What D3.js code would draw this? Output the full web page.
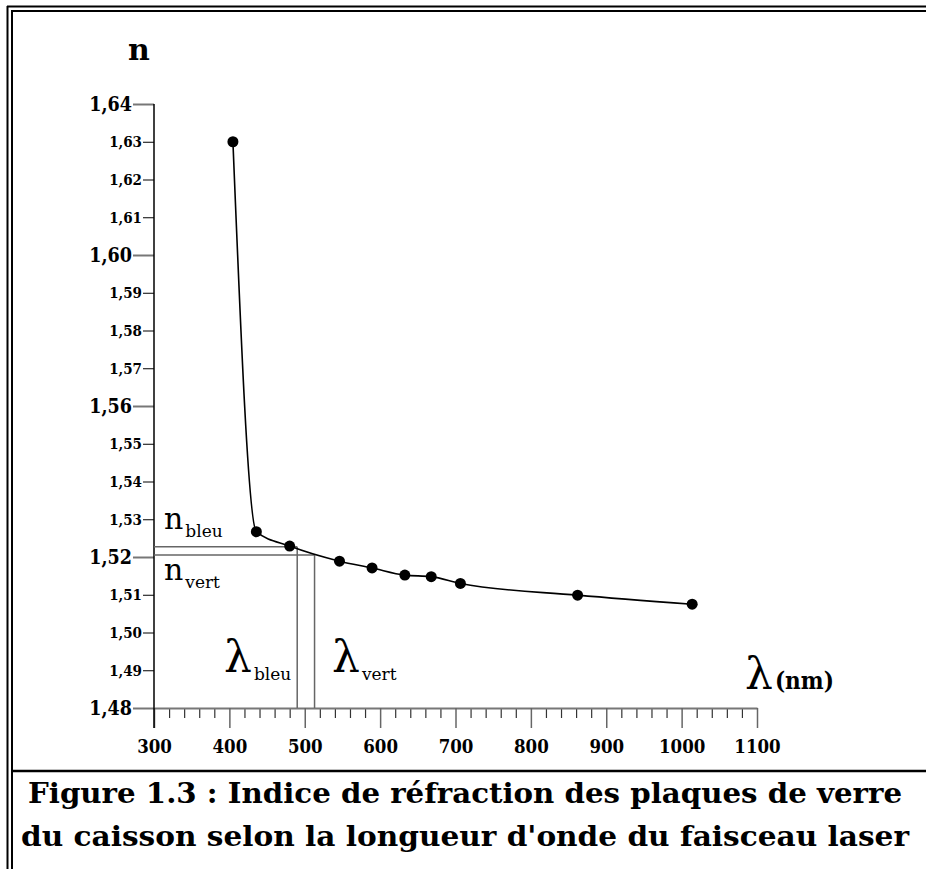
<!DOCTYPE html>
<html>
<head>
<meta charset="utf-8">
<script src="https://cdn.jsdelivr.net/npm/d3@7/dist/d3.min.js"></script>
<style>
  html, body { margin: 0; padding: 0; background: #fff; overflow: hidden; }
  svg { display: block; }
  .num { font-family: "DejaVu Serif Condensed", "DejaVu Serif", serif; font-weight: bold; font-stretch: condensed; }
  .ser { font-family: "DejaVu Serif", serif; }
</style>
</head>
<body>
<svg id="chart" width="926" height="869"></svg>
<script>
// Refractive index of the glass plates vs. wavelength
const wavelengths = [404.7, 435.8, 480.0, 546.1, 589.3, 632.8, 667.8, 706.5, 862.0, 1014.0];
const indices     = [1.6300, 1.5267, 1.5229, 1.5189, 1.5171, 1.5152, 1.5148, 1.5130, 1.5099, 1.5075];

// Laser lines read on the curve
const lambdaBleu = 490;
const lambdaVert = 513;
const nBleu = 1.5227;
const nVert = 1.5205;

// Axis ticks
const yMajorTicks = [1.48, 1.52, 1.56, 1.60, 1.64];
const yMinorTicks = [1.49, 1.50, 1.51, 1.53, 1.54, 1.55, 1.57, 1.58, 1.59, 1.61, 1.62, 1.63];
const xMajorTicks = [300, 400, 500, 600, 700, 800, 900, 1000, 1100];
const xMinorTicks = d3.range(320, 1100, 20).filter(v => v % 100 !== 0);

const captionLines = [
  "Figure 1.3 : Indice de réfraction des plaques de verre",
  "du caisson selon la longueur d'onde du faisceau laser"
];
const captionWidths = [874, 888];

const svg = d3.select("#chart");
const W = 926, H = 869;

const x = d3.scaleLinear().domain([300, 1100]).range([154, 757]);
const y = d3.scaleLinear().domain([1.48, 1.64]).range([708, 104]);

const fr = d3.formatLocale({ decimal: ",", thousands: " ", grouping: [3], currency: ["", "€"] });
const fmt = fr.format(".2f");

// Frame: double rule on top and left, caption separator
const frame = svg.append("g").attr("stroke", "#000").attr("stroke-width", 2);
frame.append("line").attr("x1", 7).attr("x2", W).attr("y1", 6.5).attr("y2", 6.5);
frame.append("line").attr("x1", 11).attr("x2", W).attr("y1", 11).attr("y2", 11);
frame.append("line").attr("x1", 7.5).attr("x2", 7.5).attr("y1", 6).attr("y2", H);
frame.append("line").attr("x1", 12).attr("x2", 12).attr("y1", 11).attr("y2", H);
frame.append("line").attr("x1", 12).attr("x2", W).attr("y1", 771).attr("y2", 771).attr("stroke-width", 2.5);

// Y axis — minor ticks
const yMinor = svg.append("g").attr("transform", `translate(${x(300)},0)`)
  .call(d3.axisLeft(y).tickValues(yMinorTicks).tickSize(11).tickPadding(1).tickFormat(fmt));
yMinor.select(".domain").remove();
yMinor.selectAll(".tick line").attr("stroke", "#000").attr("stroke-width", 1);
yMinor.selectAll(".tick text").attr("class", "num").attr("font-size", 15).attr("fill", "#000");

// Y axis — major ticks
const yMajor = svg.append("g").attr("transform", `translate(${x(300)},0)`)
  .call(d3.axisLeft(y).tickValues(yMajorTicks).tickSize(21).tickPadding(1).tickFormat(fmt));
yMajor.select(".domain").remove();
yMajor.selectAll(".tick line").attr("stroke", "#777").attr("stroke-width", 2);
yMajor.selectAll(".tick text").attr("class", "num").attr("font-size", 19.5).attr("fill", "#000");

// X axis — minor ticks
const xMinor = svg.append("g").attr("transform", `translate(0,${y(1.48)})`)
  .call(d3.axisBottom(x).tickValues(xMinorTicks).tickSize(10).tickFormat(""));
xMinor.select(".domain").remove();
xMinor.selectAll(".tick line").attr("stroke", "#333").attr("stroke-width", 1.2);

// X axis — major ticks and baseline
const xMajor = svg.append("g").attr("transform", `translate(0,${y(1.48)})`)
  .call(d3.axisBottom(x).tickValues(xMajorTicks).tickSize(20).tickSizeOuter(0).tickPadding(12).tickFormat(d3.format("d")));
xMajor.select(".domain").attr("stroke", "#777").attr("stroke-width", 2);
xMajor.selectAll(".tick line").attr("stroke", "#666").attr("stroke-width", 1.5);
xMajor.selectAll(".tick text").attr("class", "num").attr("font-size", 18.5).attr("fill", "#000");

// Y axis line (runs down to the 300 tick end)
svg.append("line")
  .attr("x1", x(300)).attr("x2", x(300))
  .attr("y1", y(1.64)).attr("y2", y(1.48) + 20)
  .attr("stroke", "#000").attr("stroke-width", 1.5);

// Reading lines for the blue and green laser wavelengths
const guides = svg.append("g").attr("stroke", "#666").attr("stroke-width", 1.5).attr("fill", "none");
guides.append("line").attr("x1", x(300)).attr("x2", x(lambdaBleu)).attr("y1", y(nBleu)).attr("y2", y(nBleu));
guides.append("line").attr("x1", x(lambdaBleu)).attr("x2", x(lambdaBleu)).attr("y1", y(nBleu)).attr("y2", y(1.48));
guides.append("line").attr("x1", x(300)).attr("x2", x(lambdaVert)).attr("y1", y(nVert)).attr("y2", y(nVert));
guides.append("line").attr("x1", x(lambdaVert)).attr("x2", x(lambdaVert)).attr("y1", y(nVert)).attr("y2", y(1.48));

// Dispersion curve
const pts = wavelengths.map((w, i) => [w, indices[i]]);
svg.append("path")
  .datum(pts)
  .attr("fill", "none")
  .attr("stroke", "#000")
  .attr("stroke-width", 1.6)
  .attr("d", d3.line().x(d => x(d[0])).y(d => y(d[1])).curve(d3.curveMonotoneX));

svg.append("g").selectAll("circle")
  .data(pts)
  .join("circle")
  .attr("cx", d => x(d[0]))
  .attr("cy", d => y(d[1]))
  .attr("r", 5.5)
  .attr("fill", "#000");

// Axis titles
svg.append("text").attr("class", "ser").attr("x", 139).attr("y", 60)
  .attr("text-anchor", "middle").attr("font-weight", "bold").attr("font-size", 30).text("n");

const lam = svg.append("text").attr("class", "ser").attr("x", 745).attr("y", 689);
lam.append("tspan").attr("font-size", 44).text("λ");
lam.append("tspan").attr("class", "num").attr("font-size", 24).attr("dx", 2).text("(nm)");

// Annotation labels
function subLabel(px, py, main, sub, mainSize, subSize, dy) {
  const t = svg.append("text").attr("class", "ser").attr("x", px).attr("y", py);
  t.append("tspan").attr("font-size", mainSize).text(main);
  t.append("tspan").attr("font-size", subSize).attr("dx", 2).attr("dy", dy).text(sub);
}
subLabel(164, 529, "n", "bleu", 30, 17, 8);
subLabel(164, 580, "n", "vert", 30, 17, 8);
subLabel(224, 672, "λ", "bleu", 44, 17, 8);
subLabel(332, 672, "λ", "vert", 44, 17, 8);

// Caption
svg.append("g").selectAll("text")
  .data(captionLines)
  .join("text")
  .attr("class", "ser")
  .attr("x", 465)
  .attr("y", (d, i) => 803 + i * 43)
  .attr("text-anchor", "middle")
  .attr("font-weight", "bold")
  .attr("font-size", 28)
  .attr("textLength", (d, i) => captionWidths[i])
  .attr("lengthAdjust", "spacingAndGlyphs")
  .text(d => d);
</script>
</body>
</html>
